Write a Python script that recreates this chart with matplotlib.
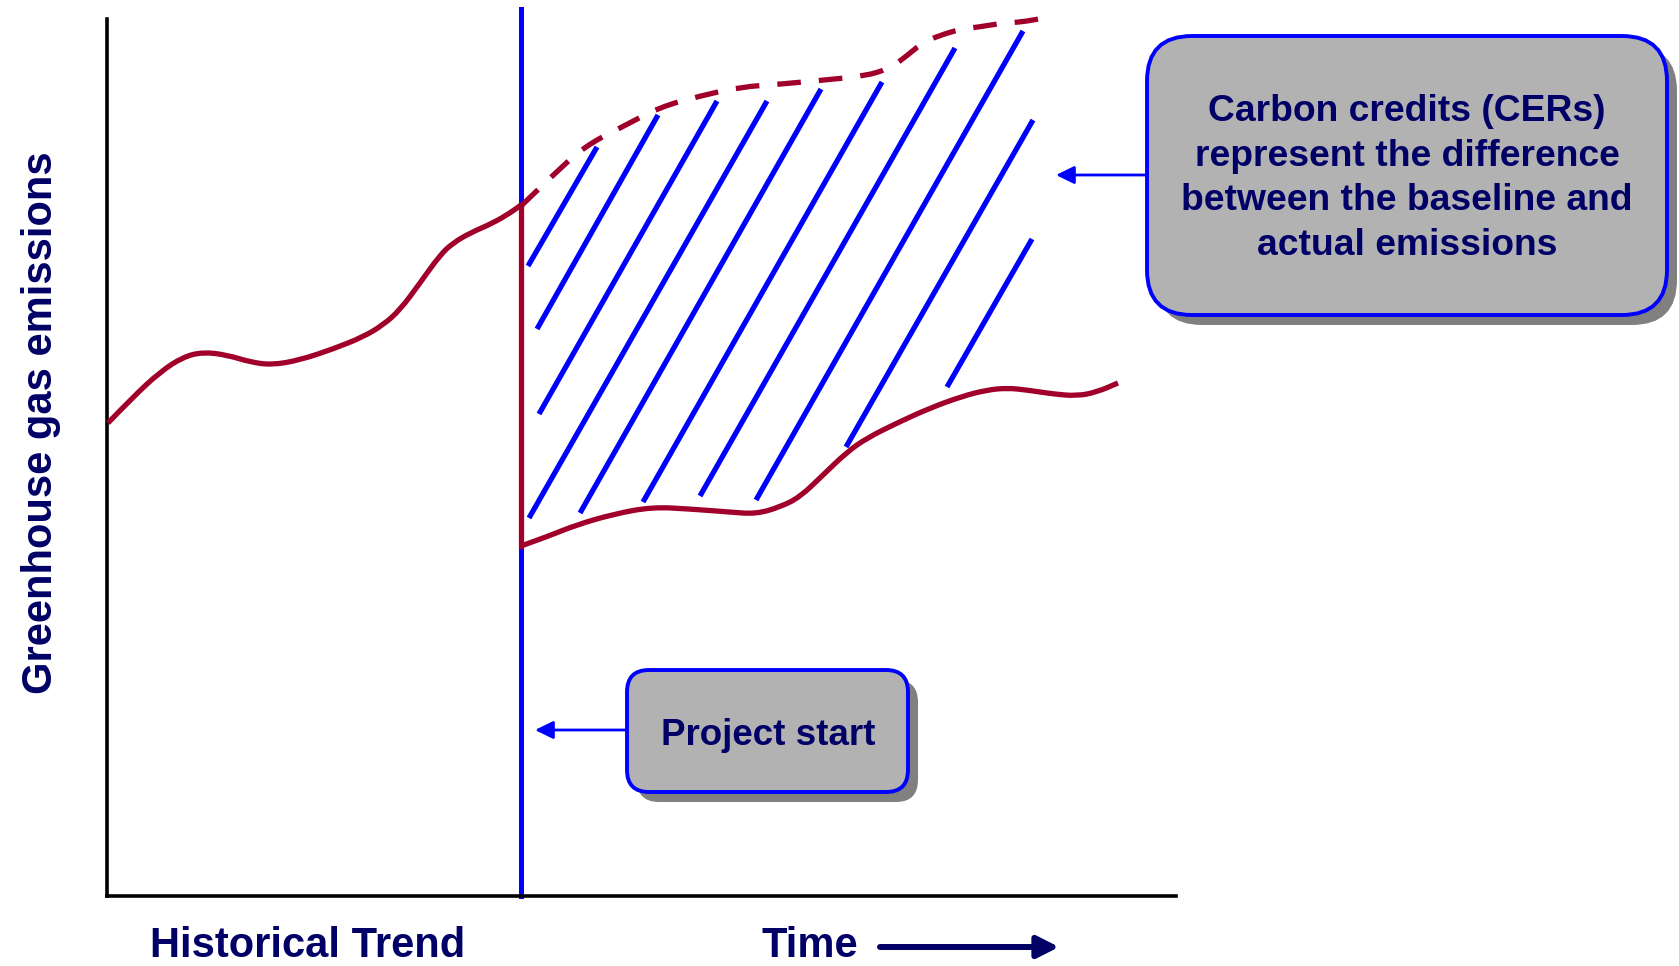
import matplotlib
matplotlib.use("Agg")
import matplotlib.pyplot as plt
from matplotlib.patches import FancyBboxPatch, PathPatch
from matplotlib.path import Path

plt.rcParams["font.family"] = ["Liberation Sans", "DejaVu Sans"]
plt.rcParams["lines.scale_dashes"] = False

RED = "#a0002a"
BLUE = "#0000ff"
NAVY = "#000066"

# emissions before the project (historical trend)
hist_x = [1, 26, 53, 76, 96, 120, 143, 165, 193, 226, 256, 276, 293, 313, 333, 346, 363, 386, 403, 414]
hist_y = [473, 499, 524, 539, 544, 541, 534, 531, 536, 547, 559, 571, 586, 613, 641, 653, 663, 673, 683, 691]

# project start
project_x = 414

# baseline (what would have happened)
base_x = [414, 446, 478, 515, 553, 593, 633, 675, 717, 758, 781, 796, 815, 831, 854, 872, 896, 915, 937]
base_y = [690, 721, 750, 769, 789, 800, 809, 812, 816, 820, 827, 837, 853, 860, 867, 869, 873, 874, 878]

# actual emissions after project start
act_x = [414, 442, 469, 507, 545, 583, 622, 649, 673, 693, 716, 740, 760, 790, 823, 856, 880, 900, 920, 946, 970, 990, 1011]
act_y = [350, 360, 371, 382, 389, 387, 384, 382, 389, 399, 421, 444, 458, 473, 488, 500, 506, 508, 506, 502, 500, 504, 513]

# hatch strokes for the carbon credit area
hatch_x0 = [421, 430, 432, 422, 473, 536, 593, 649, 739, 840]
hatch_y0 = [630, 567, 482, 378, 383, 394, 400, 396, 449, 509]
hatch_x1 = [490, 551, 610, 660, 714, 775, 848, 916, 926, 925]
hatch_y1 = [749, 781, 795, 795, 807, 814, 848, 865, 776, 657]

cer_lines = ["Carbon credits (CERs)", "represent the difference",
             "between the baseline and", "actual emissions"]


def smooth(xs, ys):
    # quadratic bezier through the midpoints of the read points
    verts = [(xs[0], ys[0])]
    codes = [Path.MOVETO]
    for i in range(1, len(xs) - 1):
        verts += [(xs[i], ys[i]), ((xs[i] + xs[i + 1]) / 2, (ys[i] + ys[i + 1]) / 2)]
        codes += [Path.CURVE3, Path.CURVE3]
    verts.append((xs[-1], ys[-1]))
    codes.append(Path.LINETO)
    return Path(verts, codes)


fig = plt.figure(figsize=(16.79, 9.66), dpi=100)
ax = fig.add_axes([107 / 1679, 70 / 966, 1069 / 1679, 877 / 966])
ax.set_xlim(0, 1069)
ax.set_ylim(0, 877)
ax.set_xticks([])
ax.set_yticks([])
for s in ["top", "right"]:
    ax.spines[s].set_visible(False)
for s in ["left", "bottom"]:
    ax.spines[s].set_linewidth(2.6)
    ax.spines[s].set_color("black")

# project start line
ax.plot([project_x, project_x], [0, 887], color=BLUE, lw=3.6, clip_on=False, zorder=2)

# hatching
for x0, y0, x1, y1 in zip(hatch_x0, hatch_y0, hatch_x1, hatch_y1):
    ax.plot([x0, x1], [y0, y1], color=BLUE, lw=3.8, solid_capstyle="butt", clip_on=False, zorder=2)

# emission curves
ax.add_patch(PathPatch(smooth(hist_x, hist_y), fill=False, ec=RED, lw=3.8, clip_on=False, zorder=3))
ax.plot([project_x, project_x], [hist_y[-1], act_y[0]], color=RED, lw=3.8, clip_on=False, zorder=3)
ax.add_patch(PathPatch(smooth(act_x, act_y), fill=False, ec=RED, lw=3.8, clip_on=False, zorder=3))
ax.add_patch(PathPatch(smooth(base_x, base_y), fill=False, ec=RED, lw=3.8, ls=(0, (17, 13)),
                       capstyle="butt", clip_on=False, zorder=3))

# callout boxes (shadow + box)
def callout(x0, y0, w, h, r):
    ax.add_patch(FancyBboxPatch((x0 + 10, y0 - 10), w, h, boxstyle="round,pad=0,rounding_size=%d" % r,
                                fc="#808080", ec="none", clip_on=False, zorder=4))
    ax.add_patch(FancyBboxPatch((x0, y0), w, h, boxstyle="round,pad=0,rounding_size=%d" % r,
                                fc="#b2b2b2", ec=BLUE, lw=2.8, clip_on=False, zorder=5))

callout(1040, 581, 520, 279, 45)
callout(520, 104, 281, 122, 22)

for i, line in enumerate(cer_lines):
    ax.text(1300, 775 - 44.7 * i, line, ha="center", va="baseline", fontsize=26.8,
            fontweight="bold", color=NAVY, zorder=6, clip_on=False)
ax.text(661, 151, "Project start", ha="center", va="baseline", fontsize=26.5,
        fontweight="bold", color=NAVY, zorder=6, clip_on=False)

# pointer arrows
ax.annotate("", xy=(949, 721), xytext=(1040, 721),
            arrowprops=dict(arrowstyle="-|>,head_length=0.55,head_width=0.27", color=BLUE, lw=2,
                            shrinkA=0, shrinkB=0, mutation_scale=20),
            annotation_clip=False, zorder=4)
ax.annotate("", xy=(428, 166), xytext=(520, 166),
            arrowprops=dict(arrowstyle="-|>,head_length=0.55,head_width=0.27", color=BLUE, lw=2,
                            shrinkA=0, shrinkB=0, mutation_scale=20),
            annotation_clip=False, zorder=4)

# axis labels
ax.text(-55, 473, "Greenhouse gas emissions", rotation=90, rotation_mode="anchor",
        ha="center", va="baseline", fontsize=30, fontweight="bold", color=NAVY, clip_on=False)
ax.text(201, -61, "Historical Trend", ha="center", va="baseline", fontsize=30,
        fontweight="bold", color=NAVY, clip_on=False)
ax.text(703, -61, "Time", ha="center", va="baseline", fontsize=30,
        fontweight="bold", color=NAVY, clip_on=False)
ax.annotate("", xy=(952, -51), xytext=(773, -51),
            arrowprops=dict(arrowstyle="-|>,head_length=0.65,head_width=0.33", color=NAVY, lw=4.3,
                            shrinkA=0, shrinkB=0, mutation_scale=20),
            annotation_clip=False)

fig.savefig("out.png", dpi=100)
